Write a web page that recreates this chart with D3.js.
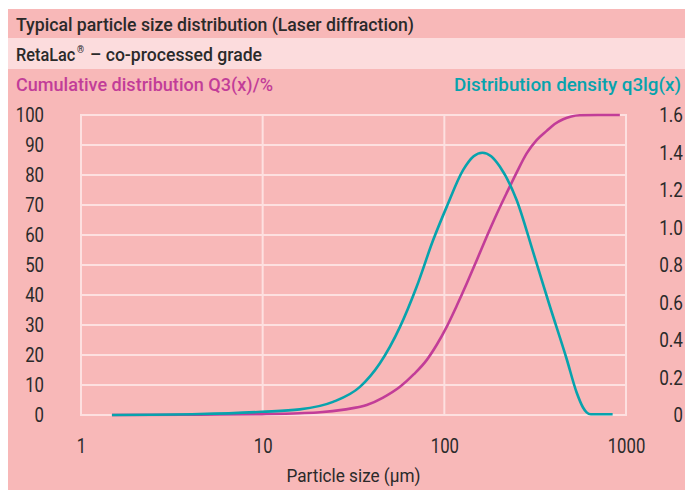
<!DOCTYPE html>
<html>
<head>
<meta charset="utf-8">
<script src="https://cdn.jsdelivr.net/npm/d3@7"></script>
<style>
  html, body { margin: 0; padding: 0; background: #ffffff; }
  svg { display: block; }
  text { font-family: "Roboto", "Liberation Sans", sans-serif; }
</style>
</head>
<body>
<svg id="chart" width="685" height="490"></svg>
<script>
// ---- Data ----
const titleText = "Typical particle size distribution (Laser diffraction)";
const subtitleMain = "RetaLac";
const subtitleMark = "\u00AE";
const subtitleRest = "\u2013 co-processed grade";
const leftAxisTitle = "Cumulative distribution Q3(x)/%";
const rightAxisTitle = "Distribution density q3lg(x)";
const xAxisTitle = "Particle size (\u00B5m)";

const xTicks = [1, 10, 100, 1000];
const xTickLabels = ["1", "10", "100", "1000"];
const leftTicks = [0, 10, 20, 30, 40, 50, 60, 70, 80, 90, 100];
const rightTicks = [0, 0.2, 0.4, 0.6, 0.8, 1.0, 1.2, 1.4, 1.6];
const rightTickLabels = ["0", "0.2", "0.4", "0.6", "0.8", "1.0", "1.2", "1.4", "1.6"];

// Cumulative distribution Q3(x) in %
const cumSize  = [1.48, 4.5, 9.9, 16.0, 20.7, 28, 37.4, 46, 57.0, 68, 79.9, 91, 103, 117, 133, 151, 171, 194, 220, 250, 284, 322, 366, 405, 451, 500, 557, 700, 925];
const cumValue = [0,    0.1, 0.3, 0.6,  0.9,  1.8, 3.3, 5.8, 9.4, 13.6, 18.3, 23.5, 29.4, 36.4, 43.9, 51.7, 59.4, 66.9, 73.9, 80.8, 87.2, 91.6, 94.7, 97.0, 98.6, 99.5, 99.9, 100, 100];

// Distribution density q3lg(x)
const densSize  = [1.48, 4.5, 9.9, 16.0, 24.4, 34.3, 44.2, 57.0, 70.4, 86.8, 103, 127, 145, 162, 181, 202, 250, 308, 381, 471, 535, 580, 607, 640, 844];
const densValue = [0,    0.005, 0.017, 0.03, 0.07, 0.15, 0.276, 0.47, 0.684, 0.933, 1.11, 1.307, 1.38, 1.399, 1.38, 1.325, 1.147, 0.87, 0.58, 0.30, 0.12, 0.04, 0.014, 0.004, 0.004];

// ---- Layout ----
const W = 685, H = 490;
const plot = { left: 81, right: 626, top: 115, bottom: 415 };
const colors = {
  panel: "#f8b8b8",
  band: "#fcdcdd",
  grid: "#fde0e0",
  text: "#2a2a2a",
  magenta: "#c23d98",
  teal: "#07a3ad"
};

const svg = d3.select("#chart");

// Panel background
svg.append("rect").attr("x", 8).attr("y", 9).attr("width", W - 8).attr("height", H - 9).attr("fill", colors.panel);
svg.append("rect").attr("x", 8).attr("y", 38).attr("width", W - 8).attr("height", 31).attr("fill", colors.band);

// Header texts
function header(x, y, len, color, size) {
  return svg.append("text")
    .attr("x", x).attr("y", y)
    .attr("fill", color)
    .attr("font-size", size || 19)
    .attr("font-weight", 500)
    .attr("textLength", len)
    .attr("lengthAdjust", "spacingAndGlyphs");
}
header(16, 30.5, 398, colors.text).text(titleText);
svg.append("text")
  .attr("transform", "translate(16,60.5) scale(0.86,1)")
  .attr("fill", colors.text)
  .attr("font-size", 19)
  .attr("font-weight", 500)
  .text(subtitleMain);
svg.append("text")
  .attr("transform", "translate(77,53) scale(0.9,1)")
  .attr("fill", colors.text)
  .attr("font-size", 10)
  .attr("font-weight", 500)
  .text(subtitleMark);
header(90, 60.5, 172, colors.text).text(subtitleRest);
header(16, 90.5, 257, colors.magenta).text(leftAxisTitle);
header(454, 90.5, 227, colors.teal).text(rightAxisTitle);

// Scales
const x = d3.scaleLog().domain([1, 1000]).range([plot.left, plot.right]);
const yL = d3.scaleLinear().domain([0, 100]).range([plot.bottom, plot.top]);
const yR = d3.scaleLinear().domain([0, 1.6]).range([plot.bottom, plot.top]);

// Gridlines
const grid = svg.append("g");
grid.selectAll("line.h").data(leftTicks).join("line")
  .attr("x1", plot.left).attr("x2", plot.right)
  .attr("y1", d => yL(d)).attr("y2", d => yL(d))
  .attr("stroke", colors.grid).attr("stroke-width", 2);
grid.selectAll("line.v").data(xTicks).join("line")
  .attr("x1", d => x(d)).attr("x2", d => x(d))
  .attr("y1", plot.top - 1).attr("y2", plot.bottom + 1)
  .attr("stroke", colors.grid).attr("stroke-width", 2);

// Axes (labels only)
function labelWidth(s) {
  let w = 0;
  for (const c of s) w += (c === ".") ? 5 : 9.4;
  return w;
}
function styleAxis(g) {
  g.select(".domain").remove();
  g.selectAll(".tick line").remove();
  g.selectAll(".tick text")
    .attr("fill", colors.text)
    .attr("font-size", 19.5)
    .attr("font-family", '"Roboto", sans-serif')
    .attr("lengthAdjust", "spacingAndGlyphs")
    .attr("textLength", function () { return labelWidth(this.textContent); });
}

const leftAxis = svg.append("g").attr("transform", "translate(44,0)")
  .call(d3.axisLeft(yL).tickValues(leftTicks).tickSize(0).tickPadding(0).tickFormat(d3.format("d")));
styleAxis(leftAxis);
leftAxis.selectAll(".tick text").attr("dy", "0.35em");

const rightAxis = svg.append("g").attr("transform", "translate(683,0)")
  .call(d3.axisRight(yR).tickValues(rightTicks).tickSize(0).tickPadding(0)
    .tickFormat((d, i) => rightTickLabels[i]));
styleAxis(rightAxis);
rightAxis.selectAll(".tick text").attr("text-anchor", "end").attr("x", 0).attr("dy", "0.35em");

const bottomAxis = svg.append("g").attr("transform", "translate(0,446.5)")
  .call(d3.axisBottom(x).tickValues(xTicks).tickSize(0).tickPadding(0)
    .tickFormat((d, i) => xTickLabels[i]));
styleAxis(bottomAxis);
bottomAxis.selectAll(".tick text").attr("y", 0).attr("dy", "0.35em");

// X axis title
svg.append("text")
  .attr("x", (plot.left + plot.right) / 2)
  .attr("y", 482)
  .attr("text-anchor", "middle")
  .attr("fill", colors.text)
  .attr("font-size", 19)
  .attr("textLength", 134)
  .attr("lengthAdjust", "spacingAndGlyphs")
  .text(xAxisTitle);

// Curves
const cumLine = d3.line()
  .x((d, i) => x(cumSize[i]))
  .y(d => yL(d))
  .curve(d3.curveMonotoneX);
const densLine = d3.line()
  .x((d, i) => x(densSize[i]))
  .y(d => yR(d))
  .curve(d3.curveMonotoneX);

svg.append("path").attr("d", cumLine(cumValue))
  .attr("fill", "none").attr("stroke", colors.magenta).attr("stroke-width", 2.6)
  .attr("stroke-linejoin", "round");
svg.append("path").attr("d", densLine(densValue))
  .attr("fill", "none").attr("stroke", colors.teal).attr("stroke-width", 2.6)
  .attr("stroke-linejoin", "round");
</script>
</body>
</html>
